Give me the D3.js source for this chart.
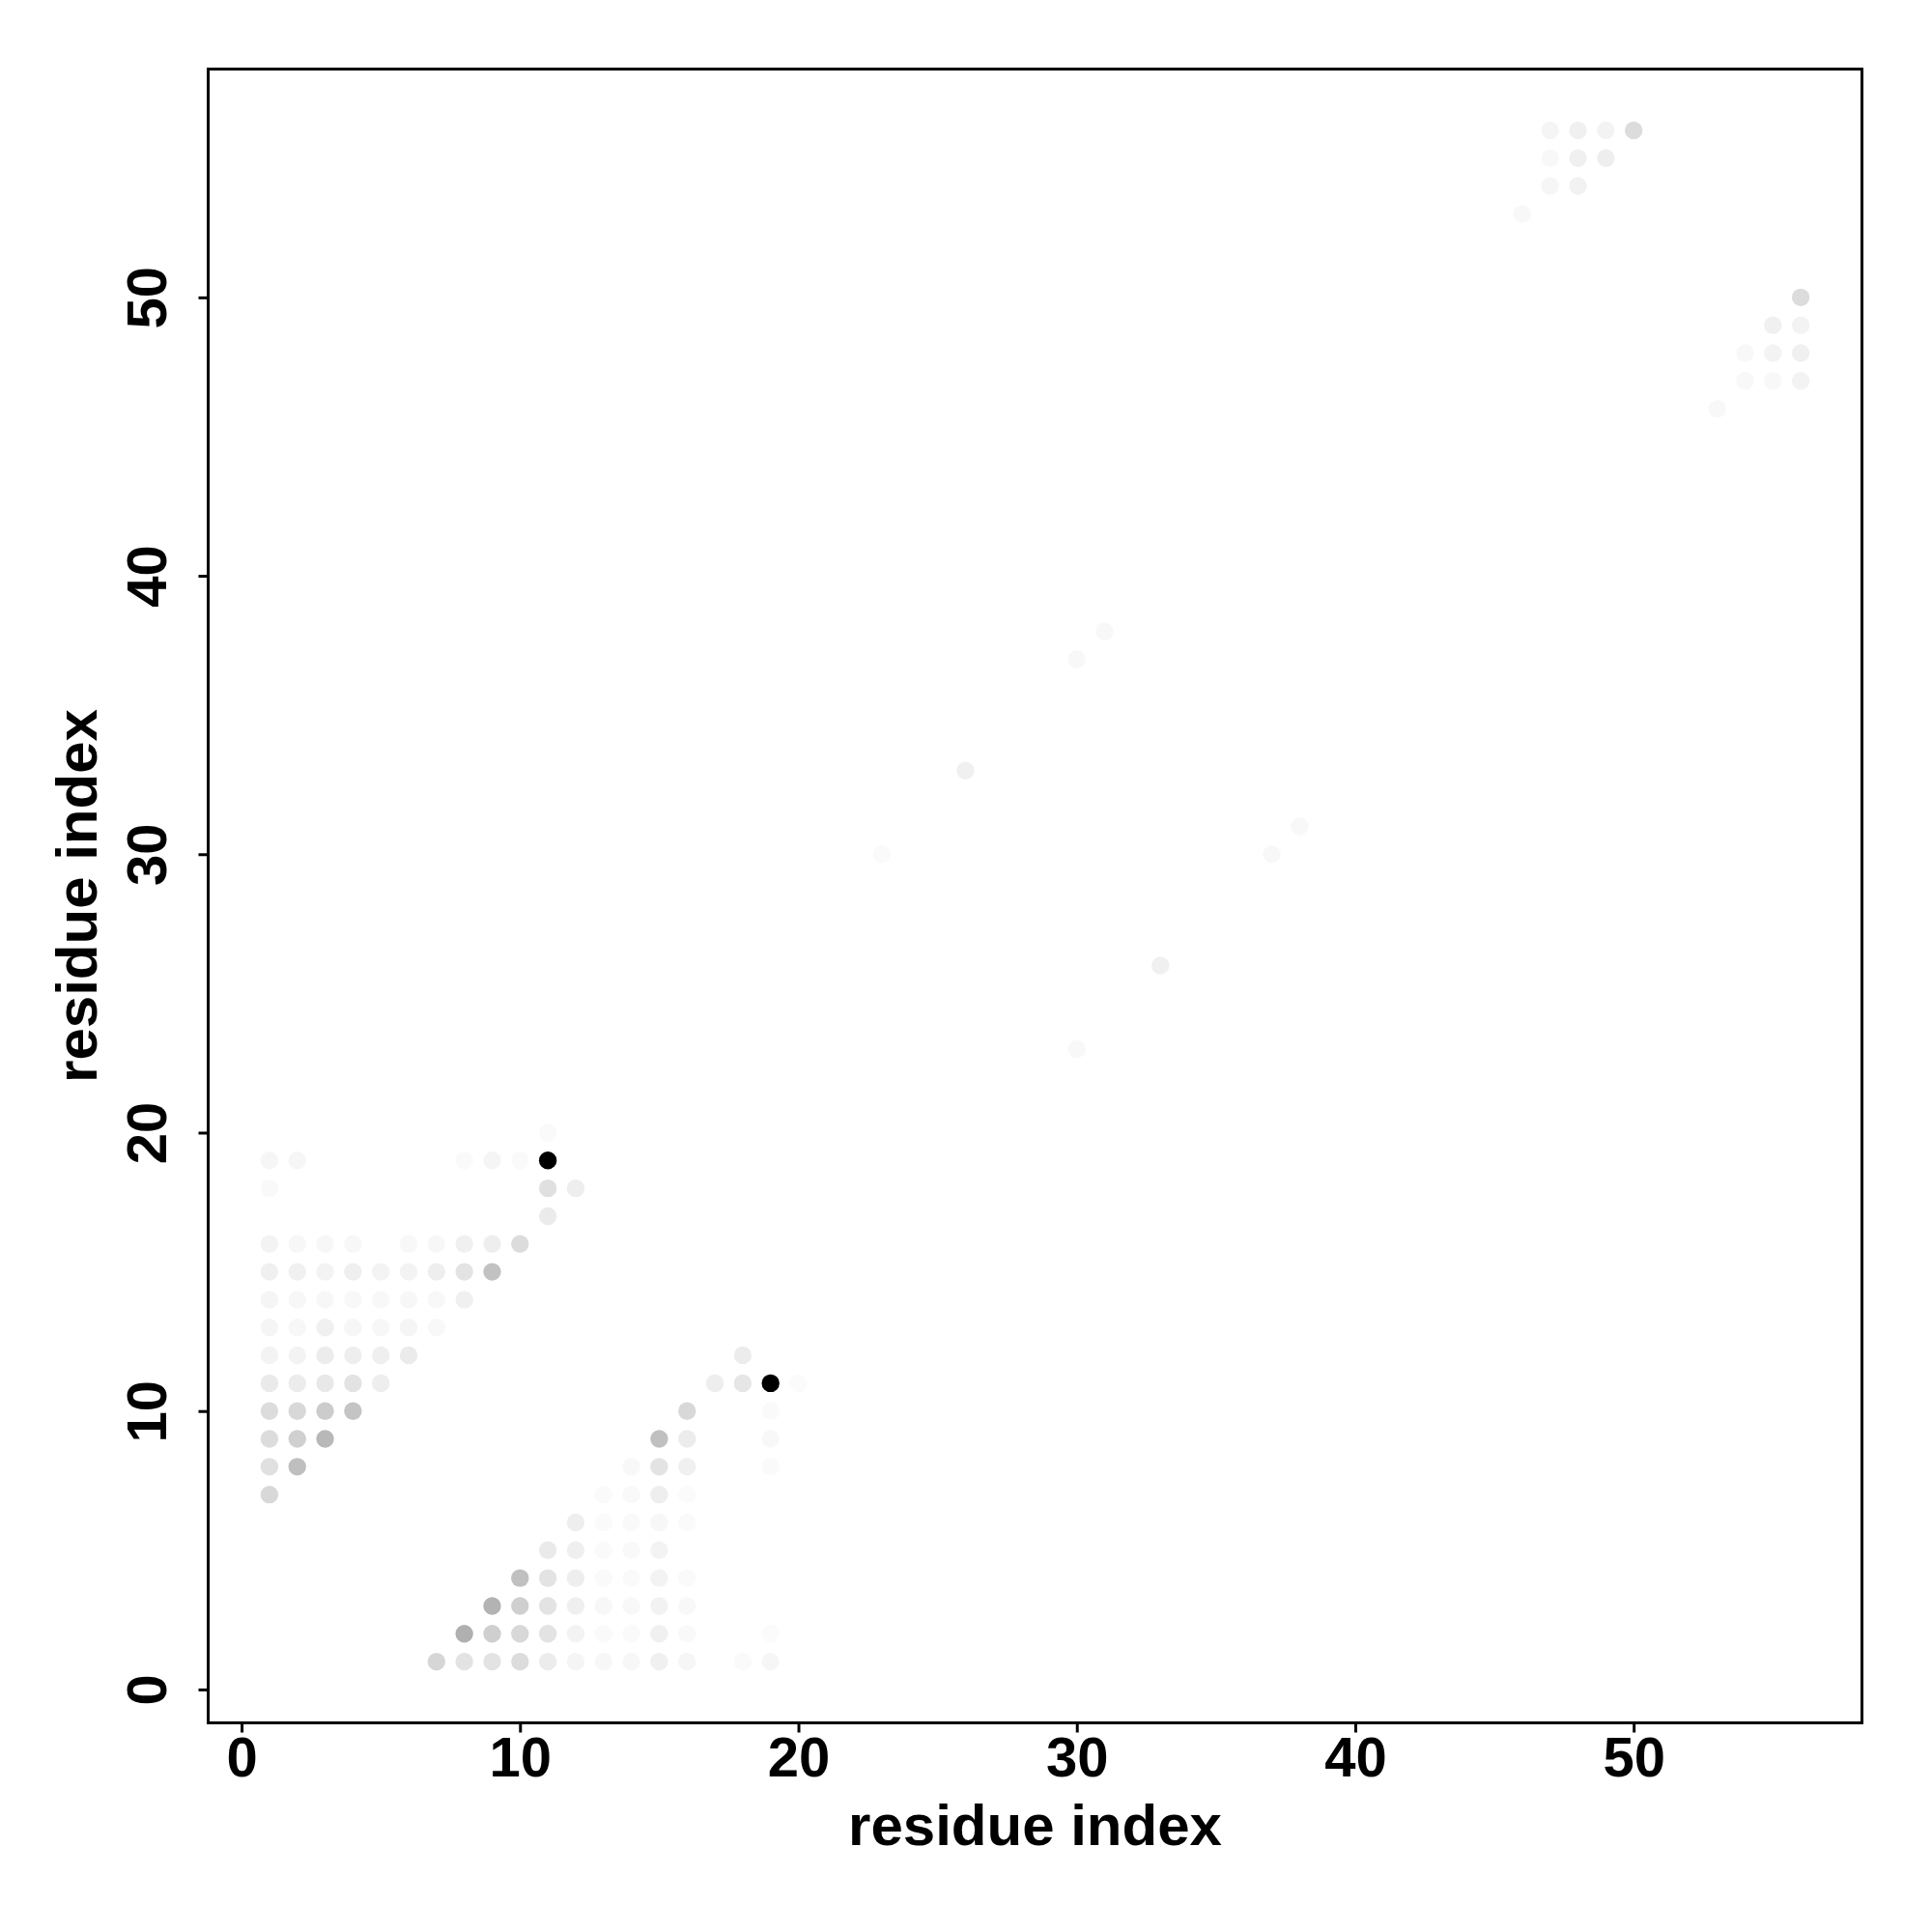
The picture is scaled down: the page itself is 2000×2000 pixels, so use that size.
<!DOCTYPE html>
<html>
<head>
<meta charset="utf-8">
<script src="https://cdn.jsdelivr.net/npm/d3@7"></script>
<style>
  html, body { margin: 0; padding: 0; background: #fff; }
  svg text { font-family: "Liberation Sans", Arial, Helvetica, sans-serif; font-weight: bold; }
</style>
</head>
<body>
<script>
// Contact map: residue i (x), residue j (y), contact strength p (0 = white, 1 = black)
const resI = [
  11,
  1, 2, 8, 9, 10, 11,
  1, 11, 12,
  11,
  1, 2, 3, 4, 6, 7, 8, 9, 10,
  1, 2, 3, 4, 5, 6, 7, 8, 9,
  1, 2, 3, 4, 5, 6, 7, 8,
  1, 2, 3, 4, 5, 6, 7,
  1, 2, 3, 4, 5, 6,
  1, 2, 3, 4, 5,
  1, 2, 3, 4,
  1, 2, 3,
  1, 2,
  1,
  18,
  17, 18, 19, 20,
  16, 19,
  15, 16, 19,
  14, 15, 16, 19,
  13, 14, 15, 16,
  12, 13, 14, 15, 16,
  11, 12, 13, 14, 15,
  10, 11, 12, 13, 14, 15, 16,
  9, 10, 11, 12, 13, 14, 15, 16,
  8, 9, 10, 11, 12, 13, 14, 15, 16, 19,
  7, 8, 9, 10, 11, 12, 13, 14, 15, 16, 18, 19,
  26, 23, 30, 31, 33, 30, 37, 38,
  47, 48, 49, 50,
  47, 48, 49,
  47, 48,
  46,
  56,
  55, 56,
  54, 55, 56,
  54, 55, 56,
  53
];
const resJ = [
  20,
  19, 19, 19, 19, 19, 19,
  18, 18, 18,
  17,
  16, 16, 16, 16, 16, 16, 16, 16, 16,
  15, 15, 15, 15, 15, 15, 15, 15, 15,
  14, 14, 14, 14, 14, 14, 14, 14,
  13, 13, 13, 13, 13, 13, 13,
  12, 12, 12, 12, 12, 12,
  11, 11, 11, 11, 11,
  10, 10, 10, 10,
  9, 9, 9,
  8, 8,
  7,
  12,
  11, 11, 11, 11,
  10, 10,
  9, 9, 9,
  8, 8, 8, 8,
  7, 7, 7, 7,
  6, 6, 6, 6, 6,
  5, 5, 5, 5, 5,
  4, 4, 4, 4, 4, 4, 4,
  3, 3, 3, 3, 3, 3, 3, 3,
  2, 2, 2, 2, 2, 2, 2, 2, 2, 2,
  1, 1, 1, 1, 1, 1, 1, 1, 1, 1, 1, 1,
  33, 30, 37, 38, 26, 23, 30, 31,
  56, 56, 56, 56,
  55, 55, 55,
  54, 54,
  53,
  50,
  49, 49,
  48, 48, 48,
  47, 47, 47,
  46
];
const strength = [
  0.02,
  0.035, 0.035, 0.02, 0.04, 0.02, 1.0,
  0.024, 0.12, 0.067,
  0.078,
  0.047, 0.031, 0.031, 0.031, 0.027, 0.031, 0.059, 0.067, 0.137,
  0.059, 0.059, 0.047, 0.063, 0.047, 0.047, 0.067, 0.11, 0.24,
  0.039, 0.031, 0.031, 0.027, 0.027, 0.031, 0.027, 0.059,
  0.039, 0.031, 0.059, 0.035, 0.031, 0.039, 0.027,
  0.047, 0.047, 0.075, 0.067, 0.063, 0.078,
  0.082, 0.075, 0.09, 0.11, 0.067,
  0.137, 0.153, 0.2, 0.23,
  0.137, 0.184, 0.278,
  0.12, 0.25,
  0.153,
  0.075,
  0.067, 0.098, 1.0, 0.016,
  0.153, 0.02,
  0.247, 0.075, 0.027,
  0.027, 0.11, 0.059, 0.02,
  0.02, 0.024, 0.067, 0.016,
  0.067, 0.02, 0.024, 0.031, 0.02,
  0.082, 0.063, 0.02, 0.024, 0.047,
  0.247, 0.11, 0.067, 0.02, 0.02, 0.047, 0.02,
  0.298, 0.188, 0.11, 0.063, 0.031, 0.027, 0.051, 0.027,
  0.31, 0.188, 0.153, 0.11, 0.047, 0.02, 0.02, 0.059, 0.024, 0.016,
  0.16, 0.11, 0.11, 0.137, 0.075, 0.039, 0.031, 0.031, 0.059, 0.035, 0.02, 0.035,
  0.059, 0.02, 0.027, 0.027, 0.059, 0.027, 0.027, 0.027,
  0.039, 0.059, 0.047, 0.137,
  0.027, 0.059, 0.067,
  0.035, 0.051,
  0.027,
  0.137,
  0.059, 0.047,
  0.027, 0.047, 0.059,
  0.027, 0.027, 0.047,
  0.027
];
const tickValues = [0, 10, 20, 30, 40, 50];
const xLabel = "residue index";
const yLabel = "residue index";

const W = 2000, H = 2000;
const plot = { left: 215.5, right: 1927.5, top: 71.5, bottom: 1783.5 };

const svg = d3.select("body").append("svg")
  .attr("width", W).attr("height", H)
  .attr("viewBox", `0 0 ${W} ${H}`);

svg.append("rect").attr("width", W).attr("height", H).attr("fill", "#fff");

const x = d3.scaleLinear().domain([-1.2, 58.2]).range([plot.left, plot.right]);
const y = d3.scaleLinear().domain([-1.2, 58.2]).range([plot.bottom, plot.top]);
const fill = d3.scaleLinear().domain([0, 1]).range(["#ffffff", "#000000"]);

const data = resI.map((d, k) => ({ i: d, j: resJ[k], p: strength[k] }));

// points (draw lighter first so the darkest sit on top)
svg.append("g").selectAll("circle")
  .data(data.slice().sort((a, b) => a.p - b.p))
  .join("circle")
  .attr("cx", d => x(d.i))
  .attr("cy", d => y(d.j))
  .attr("r", 9.2)
  .attr("fill", d => fill(d.p));

// axes
const xAxis = svg.append("g")
  .attr("transform", `translate(0,${plot.bottom})`)
  .call(d3.axisBottom(x).tickValues(tickValues).tickSize(10).tickPadding(8).tickFormat(d3.format("d")));
const yAxis = svg.append("g")
  .attr("transform", `translate(${plot.left},0)`)
  .call(d3.axisLeft(y).tickValues(tickValues).tickSize(10).tickPadding(8).tickFormat(d3.format("d")));

[xAxis, yAxis].forEach(g => {
  g.select(".domain").remove();
  g.selectAll(".tick line").attr("stroke", "#000").attr("stroke-width", 3);
  g.selectAll(".tick text")
    .attr("fill", "#000")
    .style("font-size", "58px")
    .style("font-family", "'Liberation Sans', Arial, sans-serif")
    .style("font-weight", "bold");
});

xAxis.selectAll(".tick text").attr("dy", null).attr("y", 55);
yAxis.selectAll(".tick text")
  .attr("x", null).attr("dy", null)
  .attr("text-anchor", "middle")
  .attr("transform", "translate(-44,0) rotate(-90)");

// box
svg.append("rect")
  .attr("x", plot.left).attr("y", plot.top)
  .attr("width", plot.right - plot.left).attr("height", plot.bottom - plot.top)
  .attr("fill", "none").attr("stroke", "#000").attr("stroke-width", 3);

// axis titles
svg.append("text")
  .attr("x", (plot.left + plot.right) / 2).attr("y", 1910)
  .attr("text-anchor", "middle")
  .style("font-size", "60px")
  .text(xLabel);

svg.append("text")
  .attr("transform", `translate(100,${(plot.top + plot.bottom) / 2}) rotate(-90)`)
  .attr("text-anchor", "middle")
  .style("font-size", "60px")
  .text(yLabel);
</script>
</body>
</html>
